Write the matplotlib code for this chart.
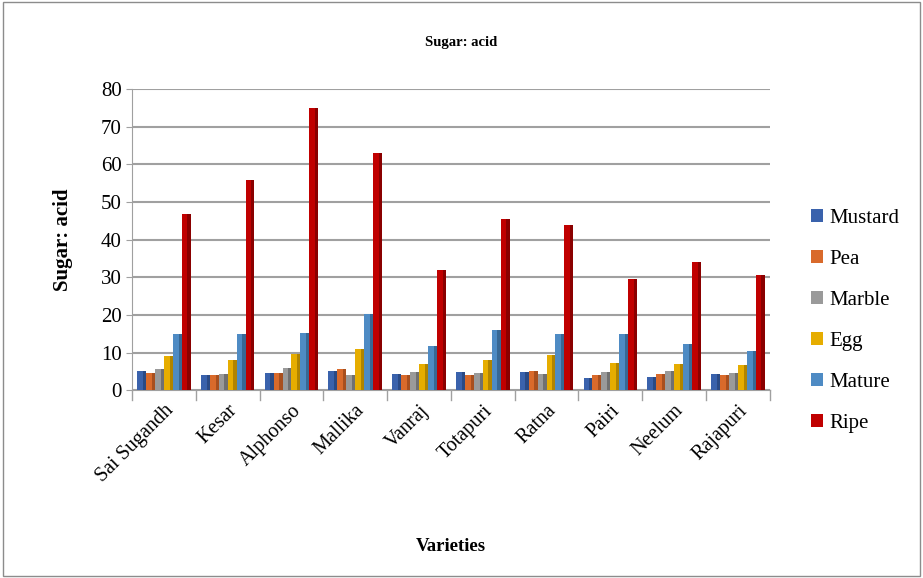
import numpy as np
import matplotlib
matplotlib.use("Agg")
import matplotlib.pyplot as plt
from matplotlib.patches import Rectangle

varieties = ["Sai Sugandh", "Kesar", "Alphonso", "Mallika", "Vanraj",
             "Totapuri", "Ratna", "Pairi", "Neelum", "Rajapuri"]
stages = ["Mustard", "Pea", "Marble", "Egg", "Mature", "Ripe"]

mustard = [5.2, 4.0, 4.5, 5.2, 4.3, 4.8, 4.9, 3.3, 3.6, 4.2]
pea = [4.5, 4.0, 4.5, 5.6, 4.0, 4.0, 5.2, 4.0, 4.3, 4.0]
marble = [5.7, 4.2, 5.9, 4.0, 4.8, 4.5, 4.2, 4.8, 5.0, 4.6]
egg = [9.0, 8.0, 9.6, 11.0, 7.0, 8.0, 9.4, 7.1, 7.0, 6.7]
mature = [15.0, 15.0, 15.2, 20.2, 11.8, 16.0, 15.0, 15.0, 12.2, 10.5]
ripe = [46.8, 55.7, 75.0, 63.0, 32.0, 45.6, 43.8, 29.5, 34.0, 30.5]

series = [mustard, pea, marble, egg, mature, ripe]
colors = ["#3a62ac", "#d96a2b", "#9a9a9a", "#e6ad00", "#4e8bc4", "#c00000"]
dark = ["#2a4a85", "#a84f1e", "#707070", "#b08400", "#386894", "#8a0000"]

plt.rcParams["font.family"] = "Liberation Serif"

fig = plt.figure(figsize=(9.23, 5.78), dpi=100)
fig.patches.append(Rectangle((0.003, 0.004), 0.994, 0.992, transform=fig.transFigure,
                             fill=False, edgecolor="#8c8c8c", linewidth=1))
ax = fig.add_axes([0.143, 0.325, 0.691, 0.521])

x = np.arange(len(varieties))
w = 0.14
for i, (vals, c, d) in enumerate(zip(series, colors, dark)):
    pos = x - 0.42 + w * (i + 0.5)
    ax.bar(pos, vals, width=w, color=c, label=stages[i], zorder=3)
    # darker right side to hint the 3D look
    ax.bar(pos + w * 0.32, vals, width=w * 0.36, color=d, zorder=3)

ax.set_xlim(-0.5, len(varieties) - 0.5)
ax.set_ylim(0, 80)
ax.set_yticks(range(0, 81, 10))
ax.yaxis.grid(True, color="#a0a0a0", linewidth=1.5, zorder=0)
ax.set_axisbelow(True)

ax.set_xticks(x)
ax.set_xticklabels(varieties, rotation=45, ha="right", rotation_mode="anchor", fontsize=14.5)
ax.tick_params(axis="x", length=0, pad=8)
for b in np.arange(-0.5, len(varieties), 1.0):
    ax.plot([b, b], [0, -2.5], color="#a0a0a0", linewidth=1, clip_on=False)
ax.tick_params(axis="y", labelsize=15, length=4, color="#a0a0a0")

for s in ["top", "right"]:
    ax.spines[s].set_visible(False)
ax.spines["left"].set_color("#a0a0a0")
ax.spines["bottom"].set_color("#a0a0a0")

ax.set_ylabel("Sugar: acid", fontsize=15, fontweight="bold", labelpad=20)
fig.text(0.488, 0.054, "Varieties", ha="center", va="center", fontsize=13.5, fontweight="bold")
fig.text(0.5, 0.927, "Sugar: acid", ha="center", va="center", fontsize=10.5, fontweight="bold")

leg = ax.legend(loc="center left", bbox_to_anchor=(1.035, 0.23), frameon=False, fontsize=15,
                handlelength=0.6, handleheight=0.6, handletextpad=0.3, labelspacing=1.05)

fig.savefig("out.png", dpi=100)
